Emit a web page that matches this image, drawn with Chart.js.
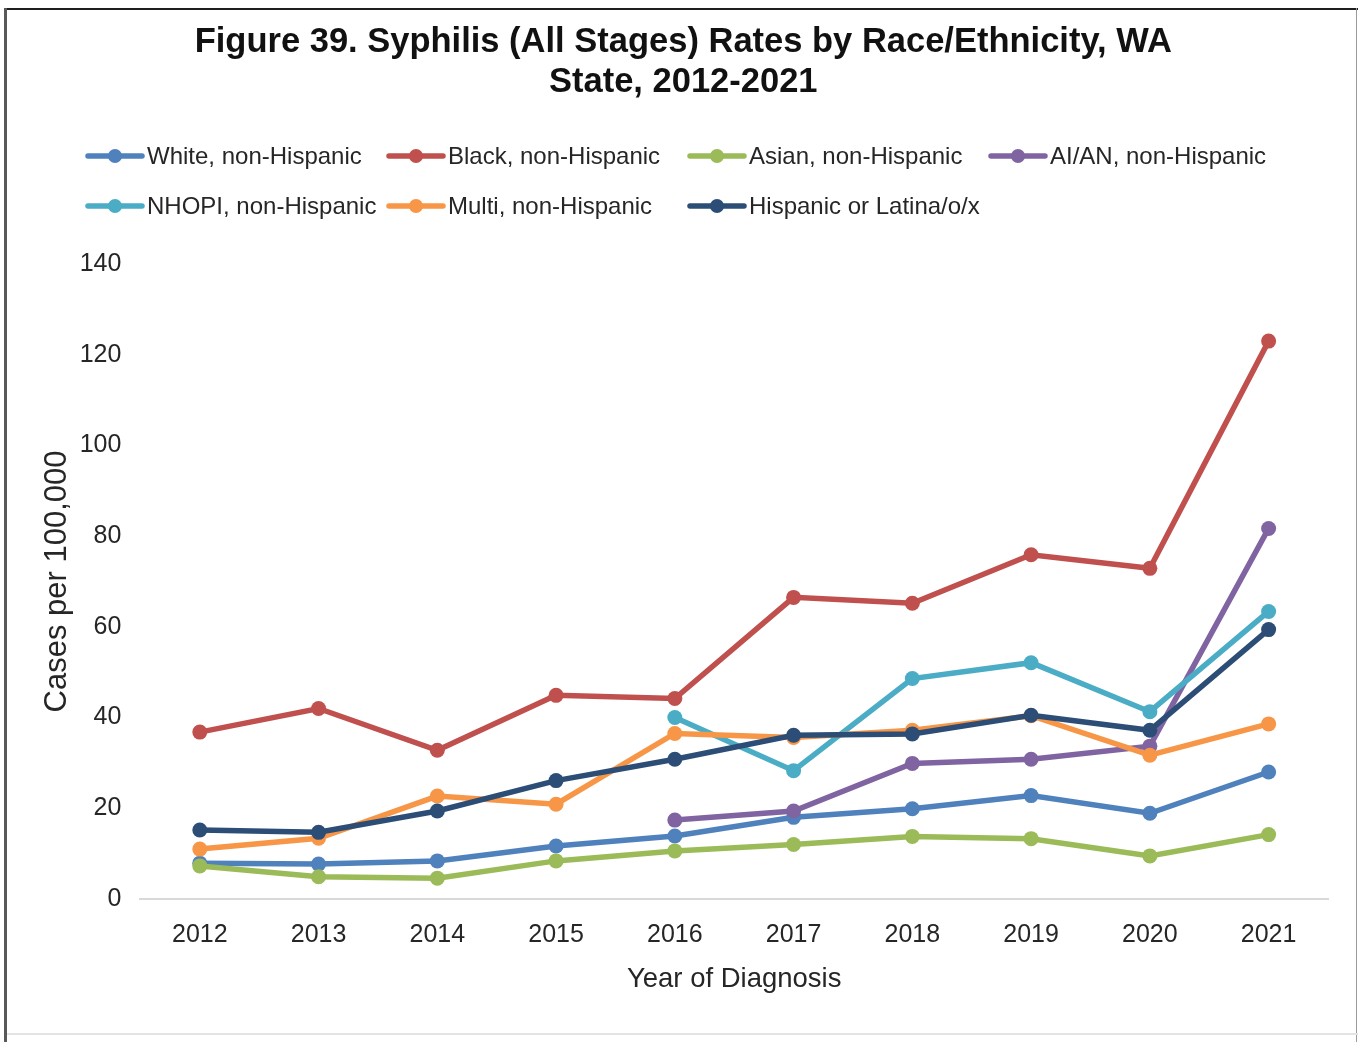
<!DOCTYPE html>
<html>
<head>
<meta charset="utf-8">
<title>Syphilis Rates by Race/Ethnicity, WA State</title>
<script src="https://cdn.jsdelivr.net/npm/chart.js@4/dist/chart.umd.min.js"></script>
<style>
  html, body { margin: 0; padding: 0; background: #fff; }
  #wrap { position: relative; width: 1358px; height: 1042px; overflow: hidden; }
  #c { position: absolute; left: 0; top: 0; }
  .edge { position: absolute; }
  #edge-top { left: 4px; top: 8px; width: 1354px; height: 2px; background: #1e1e1e; }
  #edge-left { left: 4px; top: 8px; width: 3px; height: 1034px; background: #595959; }
  #edge-right { left: 1356px; top: 8px; width: 1px; height: 1034px; background: #9a9a9a; }
  #edge-bottom { left: 7px; top: 1033px; width: 1351px; height: 2px; background: #e4e4e4; }
</style>
</head>
<body>
<div id="wrap">
  <canvas id="c" width="1358" height="1042"></canvas>
  <div class="edge" id="edge-top"></div>
  <div class="edge" id="edge-left"></div>
  <div class="edge" id="edge-right"></div>
  <div class="edge" id="edge-bottom"></div>
</div>
<script>
// Taxas por 100.000 habitantes, por ano de diagnóstico
const years = ['2012', '2013', '2014', '2015', '2016', '2017', '2018', '2019', '2020', '2021'];

const white    = [7.9, 7.7, 8.4, 11.7, 13.9, 18.0, 19.9, 22.8, 18.9, 28.0];
const black    = [36.8, 42.0, 32.8, 44.9, 44.2, 66.5, 65.2, 75.9, 72.9, 123.0];
const asian    = [7.3, 4.9, 4.6, 8.4, 10.6, 12.0, 13.8, 13.3, 9.5, 14.2];
const aian     = [null, null, null, null, 17.4, 19.4, 29.9, 30.8, 33.7, 81.7];
const nhopi    = [null, null, null, null, 40.0, 28.3, 48.6, 52.1, 41.3, 63.4];
const multi    = [11.0, 13.4, 22.7, 20.9, 36.5, 35.6, 37.2, 40.4, 31.7, 38.6];
const hispanic = [15.2, 14.7, 19.4, 26.1, 30.8, 36.1, 36.4, 40.5, 37.2, 59.4];

const seriesNames = [
  'White, non-Hispanic', 'Black, non-Hispanic', 'Asian, non-Hispanic', 'AI/AN, non-Hispanic',
  'NHOPI, non-Hispanic', 'Multi, non-Hispanic', 'Hispanic or Latina/o/x'
];
const seriesData = [white, black, asian, aian, nhopi, multi, hispanic];
const seriesColors = ['#4f81bd', '#c0504d', '#9bbb59', '#8064a2', '#4bacc6', '#f79646', '#2c4d75'];

const yTicks = [0, 20, 40, 60, 80, 100, 120, 140];

const FONT = "'Liberation Sans', Arial, sans-serif";
const TEXT = '#262626';

// legenda em grade (4 colunas), desenhada no espaço entre o título e o gráfico
const gridLegend = {
  id: 'gridLegend',
  afterDraw(chart) {
    const ctx = chart.ctx;
    const x0 = 86, colW = 301, y0 = 156, rowH = 50;
    ctx.save();
    ctx.font = '24px ' + FONT;
    ctx.textBaseline = 'middle';
    ctx.textAlign = 'left';
    chart.data.datasets.forEach((ds, i) => {
      const x = x0 + (i % 4) * colW;
      const y = y0 + Math.floor(i / 4) * rowH;
      ctx.strokeStyle = ds.borderColor;
      ctx.lineWidth = 5.5;
      ctx.lineCap = 'round';
      ctx.beginPath();
      ctx.moveTo(x + 2, y);
      ctx.lineTo(x + 56, y);
      ctx.stroke();
      ctx.fillStyle = ds.borderColor;
      ctx.beginPath();
      ctx.arc(x + 29, y, 7, 0, Math.PI * 2);
      ctx.fill();
      ctx.fillStyle = TEXT;
      ctx.fillText(ds.label, x + 61, y + 1);
    });
    ctx.restore();
  }
};

const datasets = seriesData.map((d, i) => ({
  label: seriesNames[i],
  data: d,
  borderColor: seriesColors[i],
  backgroundColor: seriesColors[i],
  pointBackgroundColor: seriesColors[i],
  pointBorderWidth: 0,
  pointRadius: 7.5,
  borderWidth: 5.5,
  tension: 0,
  order: seriesData.length - 1 - i
}));

new Chart(document.getElementById('c'), {
  type: 'line',
  data: { labels: years, datasets },
  plugins: [gridLegend],
  options: {
    responsive: false,
    animation: false,
    events: [],
    layout: { padding: { left: 38.5, right: 30, top: 0, bottom: 46.5 } },
    plugins: {
      legend: { display: false },
      tooltip: { enabled: false },
      title: {
        display: true,
        text: ['Figure 39. Syphilis (All Stages) Rates by Race/Ethnicity, WA', 'State, 2012-2021'],
        color: '#111',
        font: { family: FONT, size: 34.5, weight: 'bold', lineHeight: 40 / 34.5 },
        padding: { top: 22, bottom: 162 }
      }
    },
    scales: {
      x: {
        type: 'category',
        offset: true,
        grid: { display: false, drawTicks: true, tickLength: 15 },
        border: { display: true, color: '#d9d9d9', width: 2 },
        ticks: { color: TEXT, font: { family: FONT, size: 25 }, padding: 6, maxRotation: 0 },
        title: {
          display: true,
          text: 'Year of Diagnosis',
          color: TEXT,
          font: { family: FONT, size: 27.5 },
          padding: { top: 6.5, bottom: 0 }
        }
      },
      y: {
        min: 0,
        max: 140,
        afterBuildTicks(scale) { scale.ticks = yTicks.map(v => ({ value: v })); },
        grid: { display: false, drawTicks: true, tickLength: 17 },
        border: { display: false },
        ticks: { color: TEXT, font: { family: FONT, size: 25 }, padding: 2 },
        title: {
          display: true,
          text: 'Cases per 100,000',
          color: TEXT,
          font: { family: FONT, size: 31 },
          padding: { top: 0, bottom: 2 }
        }
      }
    }
  }
});
</script>
</body>
</html>
